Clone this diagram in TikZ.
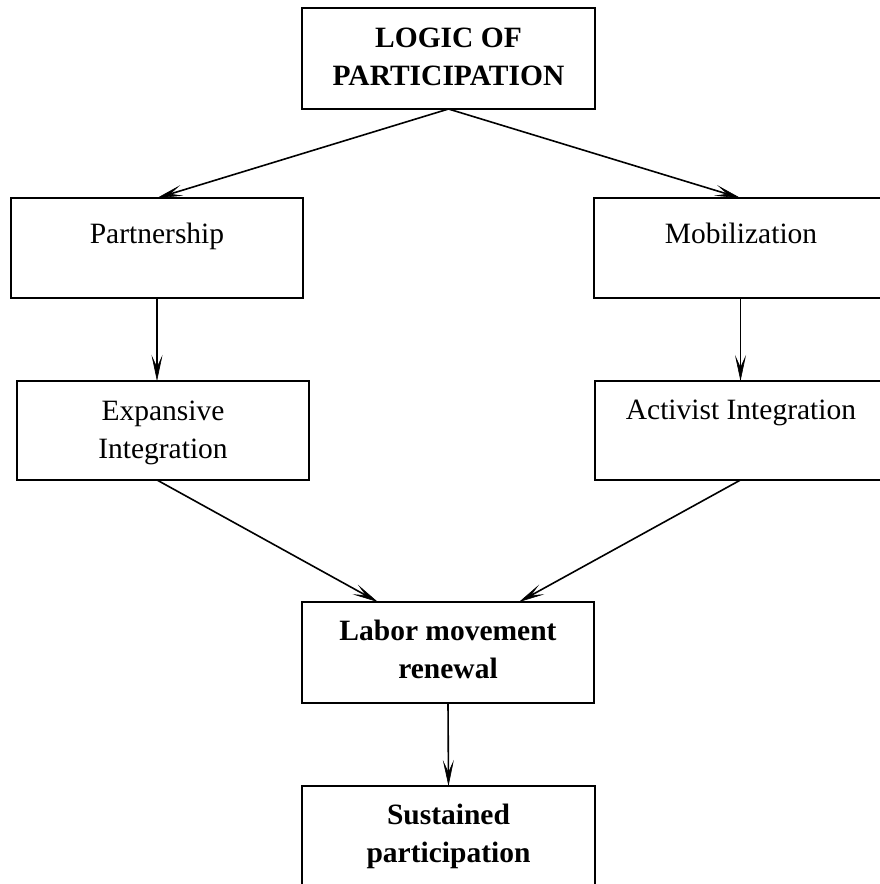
\documentclass[tikz,border=0pt]{standalone}
\usepackage{fontspec}
\setmainfont{Liberation Serif}
\usetikzlibrary{arrows.meta,calc}
\newcommand{\boxtxt}[1]{\parbox[t]{285pt}{\centering\fontsize{29.5}{38}\selectfont #1}}
\begin{document}
\begin{tikzpicture}[x=1pt,y=-1pt,
  box/.style={draw, line width=2pt, minimum width=292pt, minimum height=100pt, inner sep=0pt, outer sep=0pt},
  lbl/.style={anchor=base, inner sep=0pt},
  arr/.style={line width=1.6pt, -{Stealth[length=26pt,width=11pt,inset=12pt,line width=0.6pt]}}]
\useasboundingbox (0,0) rectangle (879,884);
% boxes
\node[box, minimum width=293pt, minimum height=101pt] (top) at (448.5,58.5) {};
\node[box] (part) at (157,248) {};
\node[box, minimum width=293pt] (mob) at (740.5,248) {};
\node[box, minimum height=99pt] (exp) at (163,430.5) {};
\node[box, minimum width=293pt, minimum height=99pt] (act) at (741.5,430.5) {};
\node[box, minimum height=101pt] (lab) at (448,652.5) {};
\node[box, minimum width=293pt] (sus) at (448.5,836) {};
% texts
\node[lbl] (ttop) at (448.5,47) {\boxtxt{\bfseries LOGIC OF\\PARTICIPATION}};
\node[lbl] (tpart) at (157,243) {\boxtxt{Partnership}};
\node[lbl] (tmob) at (741,243) {\boxtxt{Mobilization}};
\node[lbl] (texp) at (163,420) {\boxtxt{Expansive\\Integration}};
\node[lbl] (tact) at (741,419) {\boxtxt{Activist Integration}};
\node[lbl] (tlab) at (448,640) {\boxtxt{\bfseries Labor movement\\renewal}};
\node[lbl] (tsus) at (448.5,824) {\boxtxt{\bfseries Sustained\\participation}};
% connectors
\draw[arr] (top.south) -- (part.north);
\draw[arr] (top.south) -- (mob.north);
\draw[arr] (part.south) -- (part.south |- exp.north);
\draw[arr] (mob.south) -- (mob.south |- act.north);
\draw[arr] (part.south |- exp.south) -- ($(lab.north west)!0.26!(lab.north east)$);
\draw[arr] (mob.south |- act.south) -- ($(lab.north west)!0.743!(lab.north east)$);
\draw[arr] (lab.south) -- (sus.north);
\end{tikzpicture}
\end{document}
